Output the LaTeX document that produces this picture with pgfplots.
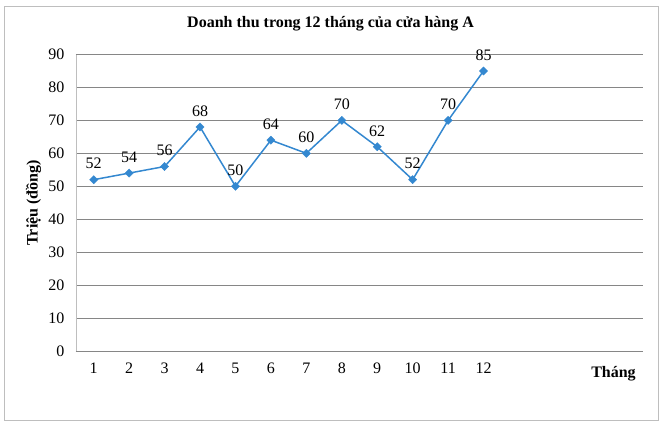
\documentclass[border=0pt]{standalone}
\usepackage{fontspec}
\setmainfont{Liberation Serif}
\usepackage{pgfplots}
\pgfplotsset{compat=1.18}

\definecolor{serie}{RGB}{52,136,208}
\definecolor{gridc}{RGB}{134,134,134}
\definecolor{framec}{RGB}{190,190,190}

\newcommand{\txt}{\fontsize{16}{19}\selectfont}

\begin{document}
\begin{tikzpicture}[x=1pt,y=1pt]
  \useasboundingbox (0,0) rectangle (667,431);
  \draw[framec, line width=1pt] (4,10) rectangle (658,424);
  \begin{axis}[
    at={(76pt,80pt)}, anchor=south west,
    scale only axis, width=567pt, height=296.5pt,
    xmin=0.5, xmax=16.5, ymin=0, ymax=90,
    xtick={1,...,12}, ytick={0,10,...,90},
    major tick length=0pt,
    axis x line=bottom, axis y line=left,
    x axis line style={-, draw=gridc, line width=0.8pt},
    y axis line style={-, draw=framec, line width=0.8pt},
    ymajorgrids, grid style={gridc, line width=0.8pt},
    tick label style={font=\txt},
    /pgf/number format/assume math mode=true,
    xticklabel style={yshift=-8pt},
    yticklabel style={xshift=-8pt},
    title={\bfseries Doanh thu trong 12 tháng của cửa hàng A},
    title style={font=\txt, at={(axis description cs:0.449,1.0725)}, anchor=base},
    ylabel={\bfseries Triệu (đồng)},
    every axis y label/.style={at={(axis description cs:-0.075,0.5)}, rotate=90, anchor=center, font=\txt},
    xlabel={\bfseries Tháng},
    every axis x label/.style={at={(axis description cs:0.948,-0.091)}, anchor=base, font=\txt},
    clip=false,
  ]
    \addplot[serie, line width=1.5pt, mark=square*, mark size=2.9pt,
      mark options={fill=serie, draw=serie, line width=0.4pt, rotate=45},
      nodes near coords, every node near coord/.style={font=\txt, black, anchor=south, yshift=7pt},
    ] coordinates {
      (1,52) (2,54) (3,56) (4,68) (5,50) (6,64)
      (7,60) (8,70) (9,62) (10,52) (11,70) (12,85)
    };
  \end{axis}
\end{tikzpicture}
\end{document}
